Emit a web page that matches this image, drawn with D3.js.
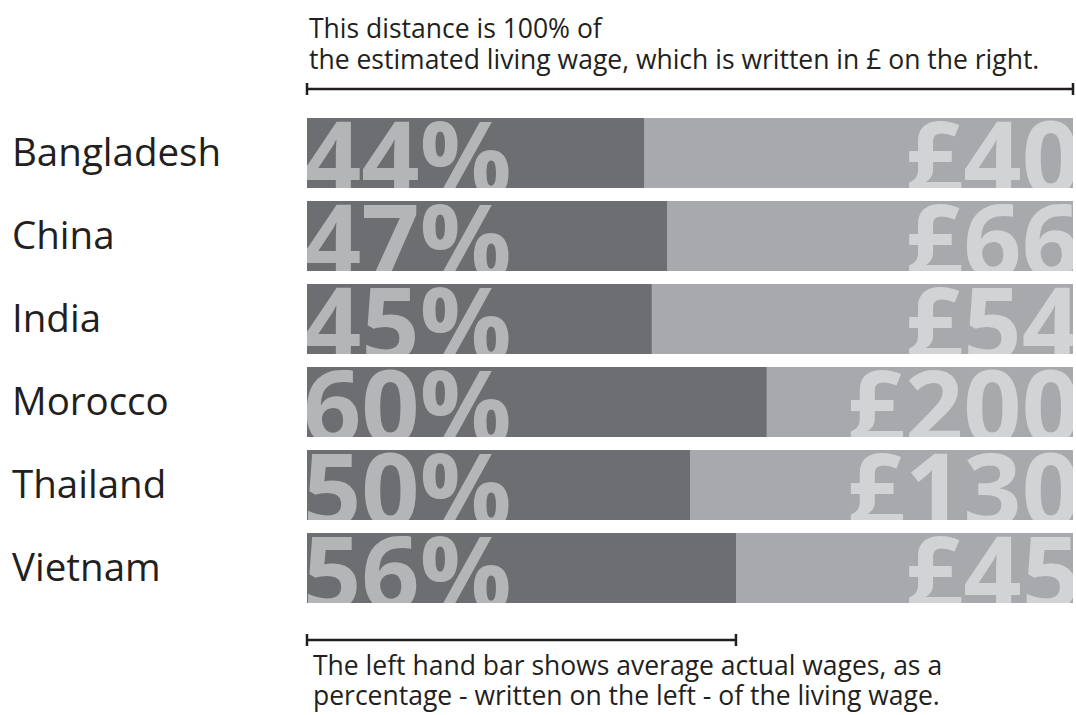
<!DOCTYPE html>
<html>
<head>
<meta charset="utf-8">
<script src="https://cdn.jsdelivr.net/npm/d3@7"></script>
<style>
  body { margin: 0; background: #fff; }
  svg { display: block; font-family: "Open Sans", sans-serif; }
</style>
</head>
<body>
<svg width="1076" height="715"></svg>
<script>
const countries = ["Bangladesh", "China", "India", "Morocco", "Thailand", "Vietnam"];
const wagePct = [44, 47, 45, 60, 50, 56];          // actual wage as % of living wage
const livingWage = [40, 66, 54, 200, 130, 45];     // estimated living wage in £

const data = countries.map((c, i) => ({ name: c, pct: wagePct[i], wage: livingWage[i] }));

const svg = d3.select("svg");

// SCALES
const x = d3.scaleLinear().domain([0, 100]).range([307, 1073]);
const y = d3.scaleBand().domain(countries).range([118, 603]).paddingInner(0.157);

const dark = "#6d6e71", light = "#a7a9ac", pctText = "#b4b5b7", wageText = "#d1d3d4", ink = "#231f20";

// CLIP PATHS (one per bar)
const defs = svg.append("defs");
defs.selectAll("clipPath")
  .data(data)
  .join("clipPath")
  .attr("id", (d, i) => "clip" + i)
  .append("rect")
  .attr("x", x(0))
  .attr("y", d => y(d.name))
  .attr("width", x(100) - x(0))
  .attr("height", y.bandwidth());

// ROWS
const rows = svg.selectAll("g.row")
  .data(data)
  .join("g")
  .attr("class", "row")
  .attr("clip-path", (d, i) => `url(#clip${i})`);

rows.append("rect")
  .attr("x", x(0))
  .attr("y", d => y(d.name))
  .attr("width", x(100) - x(0))
  .attr("height", y.bandwidth())
  .attr("fill", light);

rows.append("rect")
  .attr("x", x(0))
  .attr("y", d => y(d.name))
  .attr("width", d => x(d.pct) - x(0))
  .attr("height", y.bandwidth())
  .attr("fill", dark);

rows.append("text")
  .attr("x", x(0) - 4)
  .attr("y", d => y(d.name) + y.bandwidth() + 7)
  .attr("font-size", 102)
  .attr("font-weight", 700)
  .attr("fill", pctText)
  .text(d => d.pct + "%");

rows.append("text")
  .attr("x", x(100) + 7)
  .attr("y", d => y(d.name) + y.bandwidth() + 7)
  .attr("text-anchor", "end")
  .attr("font-size", 102)
  .attr("font-weight", 700)
  .attr("fill", wageText)
  .text(d => "£" + d.wage);

// COUNTRY LABELS
svg.selectAll("text.country")
  .data(data)
  .join("text")
  .attr("class", "country")
  .attr("x", 12)
  .attr("y", d => y(d.name) + y.bandwidth() / 2 + 13)
  .attr("font-size", 38.5)
  .attr("fill", ink)
  .text(d => d.name);

// BRACKETS
function bracket(x0, x1, yy) {
  const g = svg.append("g").attr("stroke", ink).attr("stroke-width", 2.5);
  g.append("line").attr("x1", x0).attr("x2", x1).attr("y1", yy).attr("y2", yy);
  g.append("line").attr("x1", x0).attr("x2", x0).attr("y1", yy - 6).attr("y2", yy + 6);
  g.append("line").attr("x1", x1).attr("x2", x1).attr("y1", yy - 6).attr("y2", yy + 6);
}

bracket(x(0), x(100), 89);
bracket(x(0), x(wagePct[wagePct.length - 1]), 640);

// ANNOTATIONS
const topNote = ["This distance is 100% of",
  "the estimated living wage, which is written in £ on the right."];
const bottomNote = ["The left hand bar shows average actual wages, as a",
  "percentage - written on the left - of the living wage."];

svg.append("g").selectAll("text")
  .data(topNote)
  .join("text")
  .attr("x", x(0) + 2)
  .attr("y", (d, i) => 38 + i * 31)
  .attr("font-size", 26.5)
  .attr("fill", ink)
  .text(d => d);

svg.append("g").selectAll("text")
  .data(bottomNote)
  .join("text")
  .attr("x", x(0) + 6)
  .attr("y", (d, i) => 675 + i * 30)
  .attr("font-size", 26.5)
  .attr("fill", ink)
  .text(d => d);
</script>
</body>
</html>
